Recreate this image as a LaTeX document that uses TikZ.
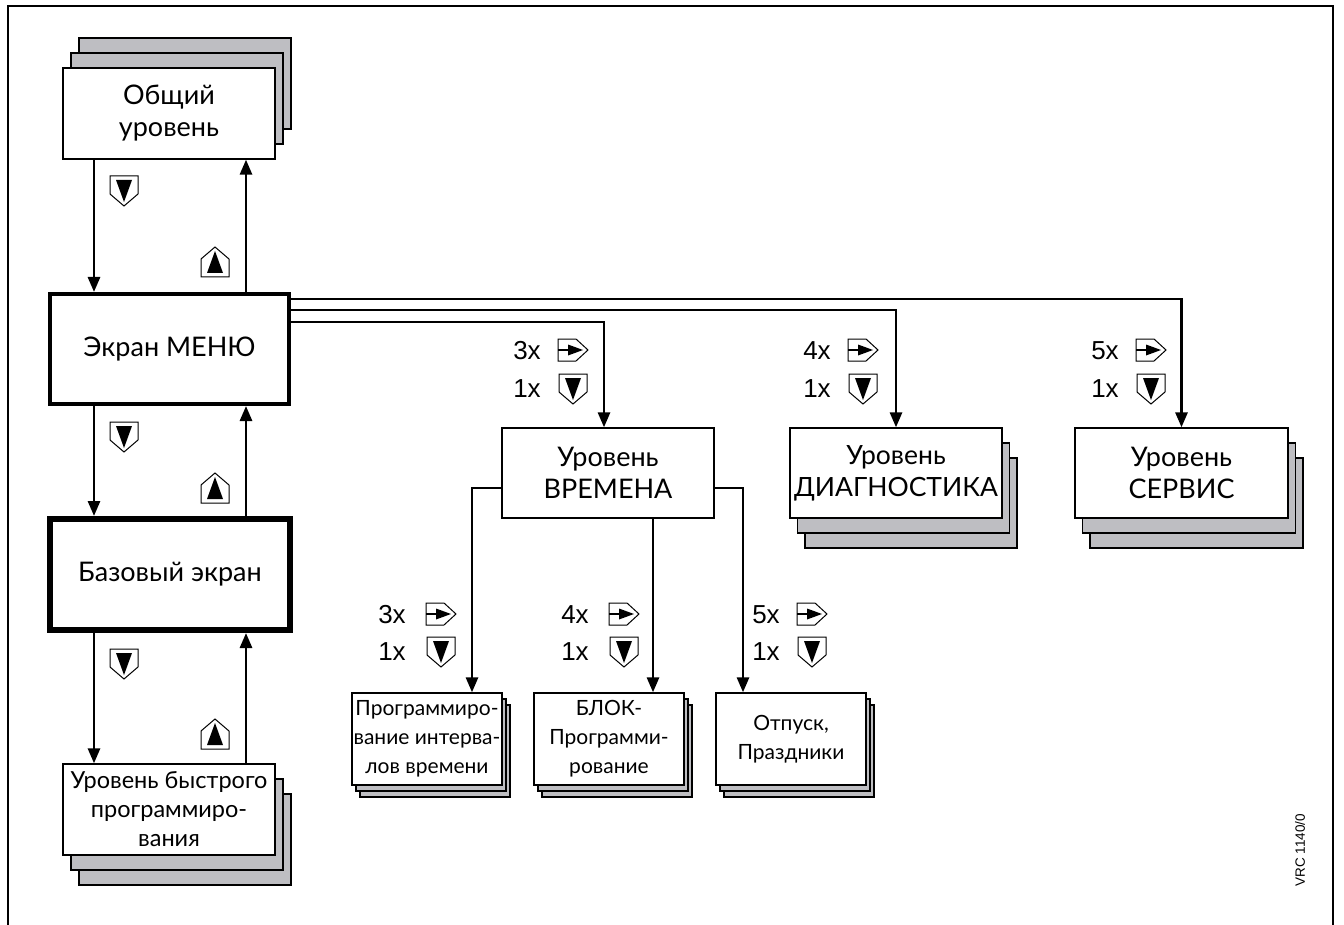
\documentclass[tikz,border=0pt]{standalone}
\usepackage{fontspec}
\setmainfont{Lato}
\newfontfamily\arialf{Liberation Sans}
\usetikzlibrary{arrows.meta,calc}
\definecolor{shgray}{RGB}{190,190,194}
\begin{document}
\begin{tikzpicture}[x=1pt,y=-1pt,
  box/.style={draw,line width=1.3pt,fill=white,align=center,inner sep=0pt},
  stk/.style n args={4}{preaction={draw,line width=1.3pt,fill=shgray,transform canvas={xshift=#3,yshift=#4}},preaction={draw,line width=1.3pt,fill=shgray,transform canvas={xshift=#1,yshift=#2}}},
  big/.style={font=\fontsize{27}{32}\selectfont},
  small/.style={font=\fontsize{21}{29}\selectfont},
  arr/.style={line width=2.8pt,-{Triangle[length=15pt,width=12pt]}},
  lab/.style={font=\arialf\fontsize{26}{30}\selectfont,inner sep=0pt},
  keyicon/.style={line width=1pt,fill=white,line join=miter},
  pics/keydown/.style={code={
    \draw[keyicon] (-14,-15) -- (14,-15) -- (14,3) -- (0,15) -- (-14,3) -- cycle;
    \fill (-8,-11) -- (8,-11) -- (0,11) -- cycle;}},
  pics/keyup/.style={code={
    \draw[keyicon] (-14,15) -- (14,15) -- (14,-3) -- (0,-15) -- (-14,-3) -- cycle;
    \fill (-8,11) -- (8,11) -- (0,-11) -- cycle;}},
  pics/keyright/.style={code={
    \draw[keyicon] (-15,-11) -- (3,-11) -- (15,0) -- (3,11) -- (-15,11) -- cycle;
    \draw[line width=2.2pt] (-15,0) -- (-4,0);
    \fill (-5,-5.5) -- (10,0) -- (-5,5.5) -- cycle;}}
]
\useasboundingbox (0,0) rectangle (1344,925);
\draw[line width=1.5pt] (8,925) -- (8,6) -- (1333,6) -- (1333,925);

% left column
\node[box,big,stk={8pt}{15pt}{16pt}{30pt},minimum width=212pt,minimum height=91pt] (obsh) at (169,113.5) {Общий\\уровень};
\node[box,big,line width=4pt,minimum width=239pt,minimum height=110pt] (menu) at (169.5,349) {Экран МЕНЮ};
\node[box,big,line width=6pt,minimum width=240pt,minimum height=111pt] (base) at (170,574.5) {Базовый экран};
\node[box,font=\fontsize{23.5}{29}\selectfont,stk={8pt}{-15pt}{16pt}{-30pt},minimum width=212pt,minimum height=91pt] (quick) at (169,809.5) {Уровень быстрого\\программиро-\\вания};

% top row
\node[box,big,minimum width=212pt,minimum height=90pt] (vrem) at (608,473) {Уровень\\ВРЕМЕНА};
\node[box,font=\fontsize{26.5}{32}\selectfont,stk={7.5pt}{-15pt}{15pt}{-30pt},minimum width=212pt,minimum height=90pt] (diag) at (896,473) {Уровень\\ДИАГНОСТИКА};
\node[box,big,stk={7.5pt}{-15pt}{15pt}{-30pt},minimum width=213pt,minimum height=90pt] (serv) at (1181.5,473) {Уровень\\СЕРВИС};

% bottom row
\node[box,small,stk={4pt}{-6pt}{8pt}{-12pt},minimum width=150pt,minimum height=92pt] (b1) at (427,739) {Программиро-\\вание интерва-\\лов времени};
\node[box,small,stk={4pt}{-6pt}{8pt}{-12pt},minimum width=150pt,minimum height=92pt] (b2) at (609,739) {БЛОК-\\Программи-\\рование};
\node[box,small,stk={4pt}{-6pt}{8pt}{-12pt},minimum width=150pt,minimum height=92pt] (b3) at (791,739) {Отпуск,\\Праздники};

% left vertical connectors
\draw[arr] ($(obsh.south)+(-75,0)$) coordinate (a1) -- (a1 |- menu.north);
\draw[arr] ($(menu.north)+(76.5,0)$) coordinate (a2) -- (a2 |- obsh.south);
\draw[arr] ($(menu.south)+(-75.5,0)$) coordinate (a3) -- (a3 |- base.north);
\draw[arr] ($(base.north)+(76,0)$) coordinate (a4) -- (a4 |- menu.south);
\draw[arr] ($(base.south)+(-76,0)$) coordinate (a5) -- (a5 |- quick.north);
\draw[arr] ($(quick.north)+(77,0)$) coordinate (a6) -- (a6 |- base.south);

% menu to levels
\draw[arr] ($(menu.east)+(0,-50)$) -| (serv.north);
\draw[arr] ($(menu.east)+(0,-39)$) -| (diag.north);
\draw[arr] ($(menu.east)+(0,-27)$) -| ($(vrem.north)+(-4,0)$);

% ВРЕМЕНА branches
\draw[arr] ($(vrem.west)+(0,15)$) -| ($(b1.north)+(45,0)$);
\draw[arr] ($(vrem.south)+(45,0)$) coordinate (v2) -- (v2 |- b2.north);
\draw[arr] ($(vrem.east)+(0,15)$) -| ($(b3.north)+(-48,0)$);

% left icons
\pic at (124,191) {keydown};
\pic at (215,262) {keyup};
\pic at (124,437) {keydown};
\pic at (215,488) {keyup};
\pic at (124,664) {keydown};
\pic at (215,734) {keyup};

% top labels
\node[lab] (t1a) at (527,351) {3x};
\pic at (573,350) {keyright};
\node[lab] (t1b) at (527,389) {1x};
\pic at (573,389) {keydown};
\node[lab] (t2a) at (817,351) {4x};
\pic at (863,350) {keyright};
\node[lab] (t2b) at (817,389) {1x};
\pic at (863,389) {keydown};
\node[lab] (t3a) at (1105,351) {5x};
\pic at (1151,350) {keyright};
\node[lab] (t3b) at (1105,389) {1x};
\pic at (1151,389) {keydown};

% bottom labels
\node[lab] (u1a) at (392,615) {3x};
\pic at (441,614) {keyright};
\node[lab] (u1b) at (392,652) {1x};
\pic at (441,652) {keydown};
\node[lab] (u2a) at (575,615) {4x};
\pic at (624,614) {keyright};
\node[lab] (u2b) at (575,652) {1x};
\pic at (624,652) {keydown};
\node[lab] (u3a) at (766,615) {5x};
\pic at (812,614) {keyright};
\node[lab] (u3b) at (766,652) {1x};
\pic at (812,652) {keydown};

\node[font=\arialf\fontsize{13.5}{15}\selectfont,rotate=90,inner sep=0pt] (vrc) at (1300,850) {VRC 1140/0};
\end{tikzpicture}
\end{document}
